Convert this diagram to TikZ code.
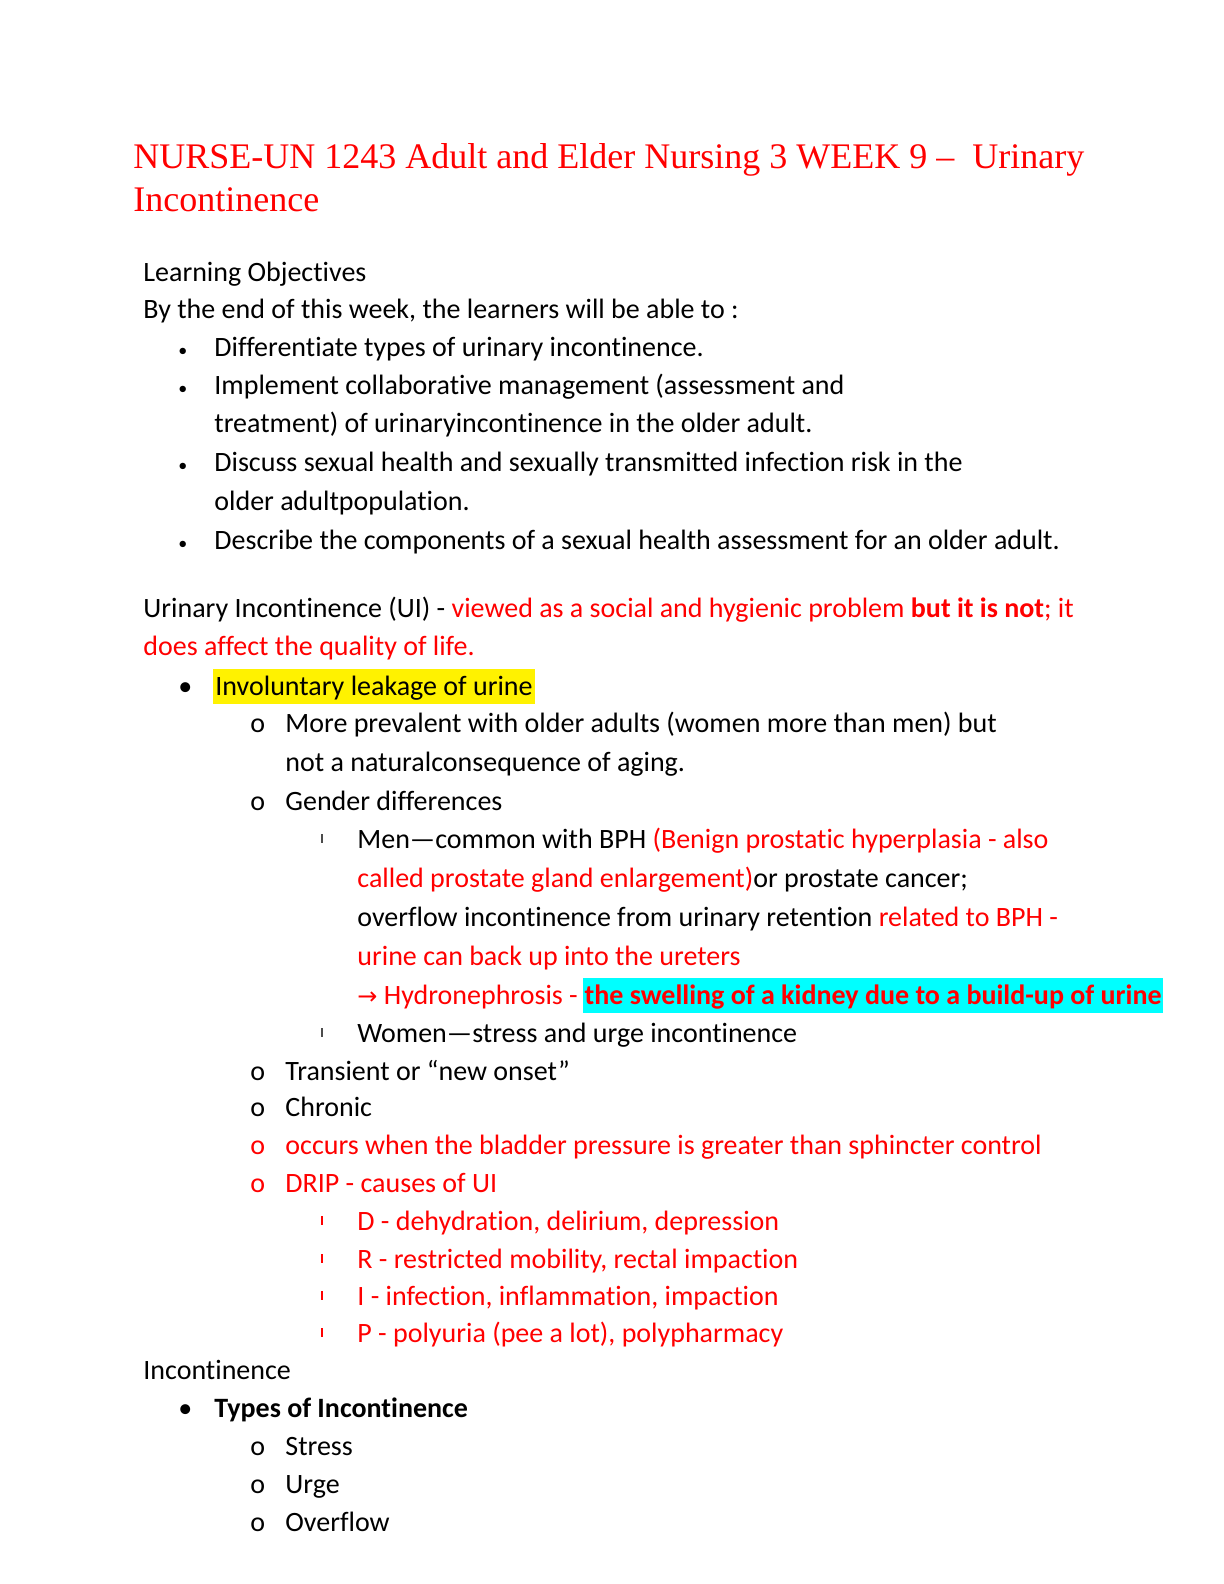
\documentclass[tikz,border=0pt]{standalone}
\usepackage{fontspec}
\setmainfont{Carlito}[RawFeature=-liga]
\newfontfamily\titlefont{Liberation Serif}
\newfontfamily\symfont{DejaVu Sans}
\usepackage{xcolor}
\usetikzlibrary{positioning}
\definecolor{ured}{RGB}{255,0,0}
\definecolor{hlcyan}{RGB}{0,255,255}
\tikzset{
    txt/.style={anchor=base west, inner sep=0pt, font=\fontsize{14}{17}\selectfont},
    ttl/.style={anchor=base west, inner sep=0pt, text=ured, font=\titlefont\fontsize{18}{21}\selectfont},
    dot/.style={anchor=base west, inner sep=0pt, font=\fontsize{14}{17}\selectfont},
    hl/.style={txt, fill=#1, inner xsep=1pt, text height=13pt, text depth=4.5pt}}
\begin{document}
\begin{tikzpicture}[x=0.5pt,y=-0.5pt]
\useasboundingbox[fill=white] (0,0) rectangle (1224,1584);
% title
\node[ttl] (t1) at (133,169) {NURSE-UN 1243 Adult and Elder Nursing 3 WEEK 9 –\ \ Urinary};
\node[ttl] (t2) at (133,211) {Incontinence};
% objectives
\node[txt] (lo) at (143,281) {Learning Objectives};
\node[txt] (by) at (143,318) {By the end of this week, the learners will be able to :};
\foreach \y in {356,394,471,549}
  \node[dot] at (178,\y) {\fontsize{9}{9}\selectfont •};
\node[txt] (o1) at (214,356) {Differentiate types of urinary incontinence.};
\node[txt] (o2) at (214,394) {Implement collaborative management (assessment and};
\node[txt] (o2b) at (214,432) {treatment) of urinaryincontinence in the older adult.};
\node[txt] (o3) at (214,471) {Discuss sexual health and sexually transmitted infection risk in the};
\node[txt] (o3b) at (214,510) {older adultpopulation.};
\node[txt] (o4) at (214,549) {Describe the components of a sexual health assessment for an older adult.};
% UI
\node[txt] (ui) at (143,617) {Urinary Incontinence (UI) - \textcolor{ured}{viewed as a social and hygienic problem \textbf{but it is not}; it}};
\node[txt, text=ured] (ui2) at (143,655) {does affect the quality of life.};
\node[dot] at (178,695) {\fontsize{14}{14}\selectfont •};
\node[hl=yellow] (inv) at (213,695) {Involuntary leakage of urine};
\foreach \y/\c in {732/black,810/black,1080/black,1116/black,1154/ured,1192/ured,1455/black,1493/black,1531/black}
  \node[dot, text=\c] at (250,\y) {o};
\node[txt] (p1) at (285,732) {More prevalent with older adults (women more than men) but};
\node[txt] (p1b) at (285,771) {not a naturalconsequence of aging.};
\node[txt] (g) at (285,810) {Gender differences};
\fill[black!70] (321,834) rectangle ++(2.4,9);
\node[txt] (m1) at (357,848) {Men---common with BPH \textcolor{ured}{(Benign prostatic hyperplasia - also}};
\node[txt, text=ured] (m2) at (357,887) {called prostate gland enlargement)\textcolor{black}{ or prostate cancer;}};
\node[txt] (m3) at (357,926) {overflow incontinence from urinary retention \textcolor{ured}{related to BPH -}};
\node[txt, text=ured] (m4) at (357,965) {urine can back up into the ureters};
\node[txt, text=ured] (m5) at (357,1004) {{\symfont\fontsize{12}{14}\selectfont →} Hydronephrosis -};
\node[hl=hlcyan, text=ured, right=2pt of m5.base east, anchor=base west] (sw) {\textbf{the swelling of a kidney due to a build-up of urine}};
\fill[black!70] (321,1028) rectangle ++(2.4,9);
\node[txt] (w) at (357,1042) {Women---stress and urge incontinence};
\node[txt] (tr) at (285,1080) {Transient or “new onset”};
\node[txt] (ch) at (285,1116) {Chronic};
\node[txt, text=ured] (oc) at (285,1154) {occurs when the bladder pressure is greater than sphincter control};
\node[txt, text=ured] (dr) at (285,1192) {DRIP - causes of UI};
\foreach \y in {1216,1254,1291,1328}
  \fill[ured] (321,\y) rectangle ++(2.4,9);
\node[txt, text=ured] (d) at (357,1230) {D - dehydration, delirium, depression};
\node[txt, text=ured] (r) at (357,1268) {R - restricted mobility, rectal impaction};
\node[txt, text=ured] (i) at (357,1305) {I - infection, inflammation, impaction};
\node[txt, text=ured] (p) at (357,1342) {P - polyuria (pee a lot), polypharmacy};
% types
\node[txt] (inc) at (143,1379) {Incontinence};
\node[dot] at (178,1417) {\fontsize{14}{14}\selectfont •};
\node[txt] (ty) at (214,1417) {\textbf{Types of Incontinence}};
\node[txt] (st) at (285,1455) {Stress};
\node[txt] (ur) at (285,1493) {Urge};
\node[txt] (ov) at (285,1531) {Overflow};
\end{tikzpicture}
\end{document}
